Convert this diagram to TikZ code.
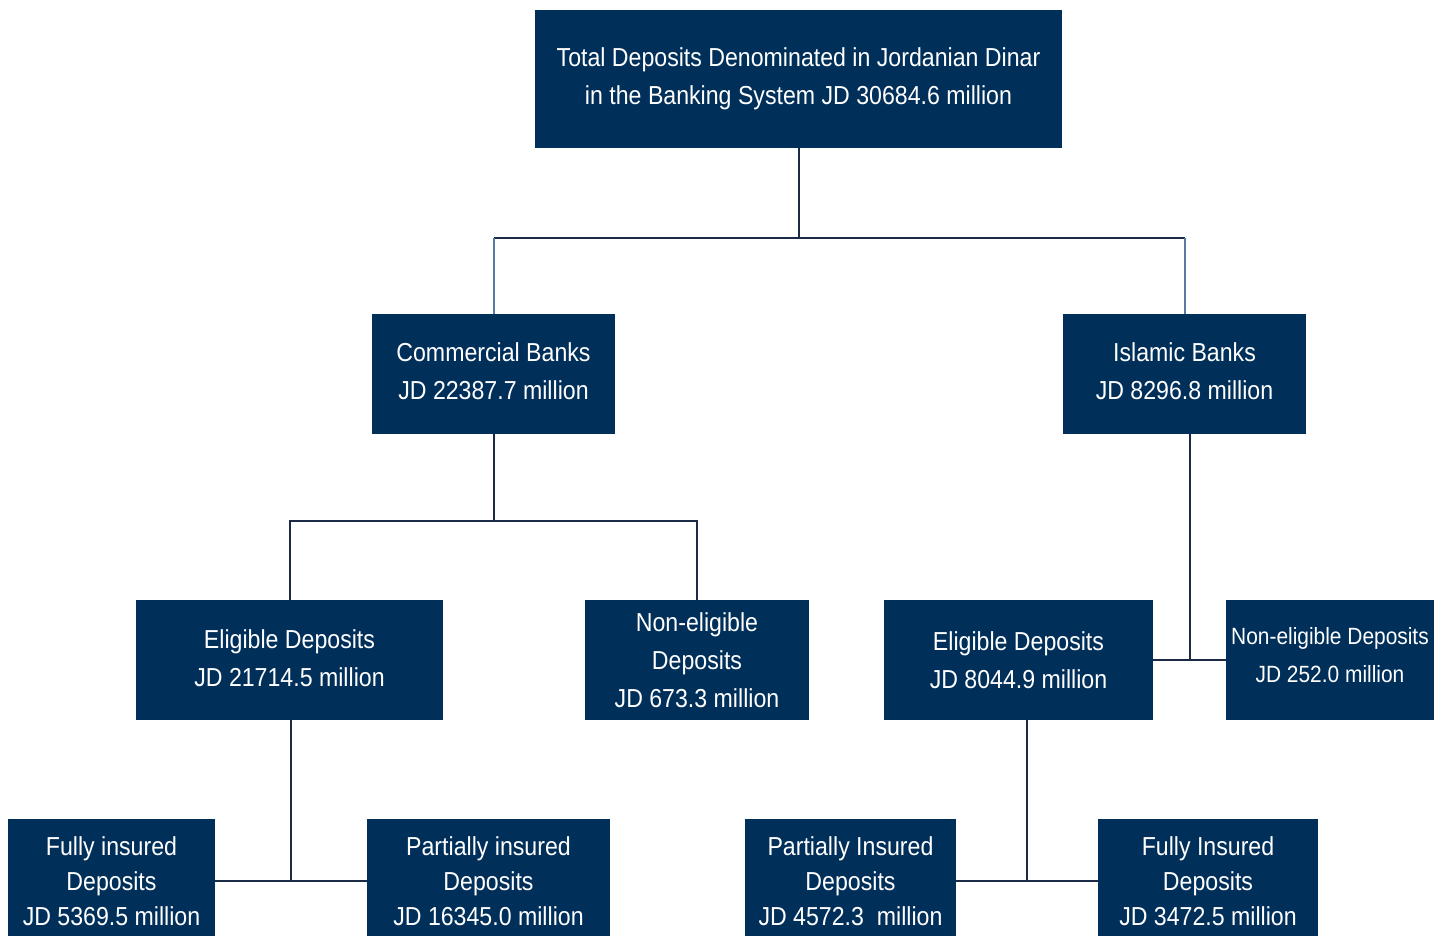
\documentclass[tikz,border=0pt]{standalone}
\usepackage{fontspec}
\setmainfont{Liberation Sans}[FakeStretch=0.89]
\definecolor{boxblue}{HTML}{002F5A}
\definecolor{linkdark}{HTML}{1B2B45}
\definecolor{linklight}{HTML}{587BA6}
% struts to nudge text inside a box
\newcommand{\uptext}[1]{\rule[-#1]{0pt}{0pt}}
\newcommand{\downtext}[1]{\rule{0pt}{#1}}

\begin{document}
\begin{tikzpicture}[x=1pt,y=-1pt,
  box/.style = {fill=boxblue, text=white, align=center, inner sep=0pt,
                font=\fontsize{26}{38}\selectfont},
  lowbox/.style = {box, font=\fontsize{26}{35}\selectfont},
  link/.style = {draw=linkdark, line width=2pt},
  linklt/.style = {draw=linklight, line width=2pt}]
\useasboundingbox (0,0) rectangle (1446,936);

% level 0
\node[box, minimum width=527pt, minimum height=138pt] (total) at (798.5,79)
  {Total Deposits Denominated in Jordanian Dinar\\in the Banking System JD 30684.6 million};

% level 1
\node[box, minimum width=243pt, minimum height=120pt] (comm) at (493.5,374)
  {Commercial Banks\\JD 22387.7 million\uptext{6pt}};
\node[box, minimum width=243pt, minimum height=120pt] (islam) at (1184.5,374)
  {Islamic Banks\\JD 8296.8 million\uptext{6pt}};

% level 2
\node[box, minimum width=307pt, minimum height=120pt] (elig1) at (289.5,660)
  {Eligible Deposits\\JD 21714.5 million\uptext{4pt}};
\node[box, minimum width=224pt, minimum height=120pt] (nonel1) at (697,660)
  {Non-eligible\\Deposits\\JD 673.3 million};
\node[box, minimum width=269pt, minimum height=120pt] (elig2) at (1018.5,660)
  {Eligible Deposits\\JD 8044.9 million};
\node[box, minimum width=208pt, minimum height=120pt,
      font=\fontsize{23.5}{38}\selectfont] (nonel2) at (1330,660)
  {Non-eligible Deposits\\JD 252.0 million\uptext{10pt}};

% level 3
\node[lowbox, minimum width=207pt, minimum height=117pt] (full1) at (111.5,877.5)
  {\downtext{27pt}Fully insured\\Deposits\\JD 5369.5 million};
\node[lowbox, minimum width=243pt, minimum height=117pt] (part1) at (488.5,877.5)
  {\downtext{27pt}Partially insured\\Deposits\\JD 16345.0 million};
\node[lowbox, minimum width=211pt, minimum height=117pt] (part2) at (850.5,877.5)
  {\downtext{27pt}Partially Insured\\Deposits\\JD 4572.3~ million};
\node[lowbox, minimum width=220pt, minimum height=117pt] (full2) at (1208,877.5)
  {\downtext{27pt}Fully Insured\\Deposits\\JD 3472.5 million};

% split points
\coordinate (splittop) at (798.5,238);
\coordinate (splitcomm) at (493.5,521);
\coordinate (splitisl) at (1190,660);
\coordinate (splitel1) at (291,881);
\coordinate (splitel2) at (1027,881);

% connectors
\draw[link] (total) -- (splittop);
\draw[link] (splittop) -- (splittop -| comm);
\draw[link] (splittop) -- (splittop -| islam);
\draw[linklt] (splittop -| comm) -- (comm);
\draw[linklt] (splittop -| islam) -- (islam);

\draw[link] (comm) -- (splitcomm);
\draw[link] (splitcomm) -| (elig1);
\draw[link] (splitcomm) -| (nonel1);

\draw[link] (islam.south -| splitisl) -- (splitisl);
\draw[link] (elig2) -- (nonel2);

\draw[link] (elig1.south -| splitel1) -- (splitel1);
\draw[link] (full1.east |- splitel1) -- (part1.west |- splitel1);

\draw[link] (elig2.south -| splitel2) -- (splitel2);
\draw[link] (part2.east |- splitel2) -- (full2.west |- splitel2);
\end{tikzpicture}
\end{document}
